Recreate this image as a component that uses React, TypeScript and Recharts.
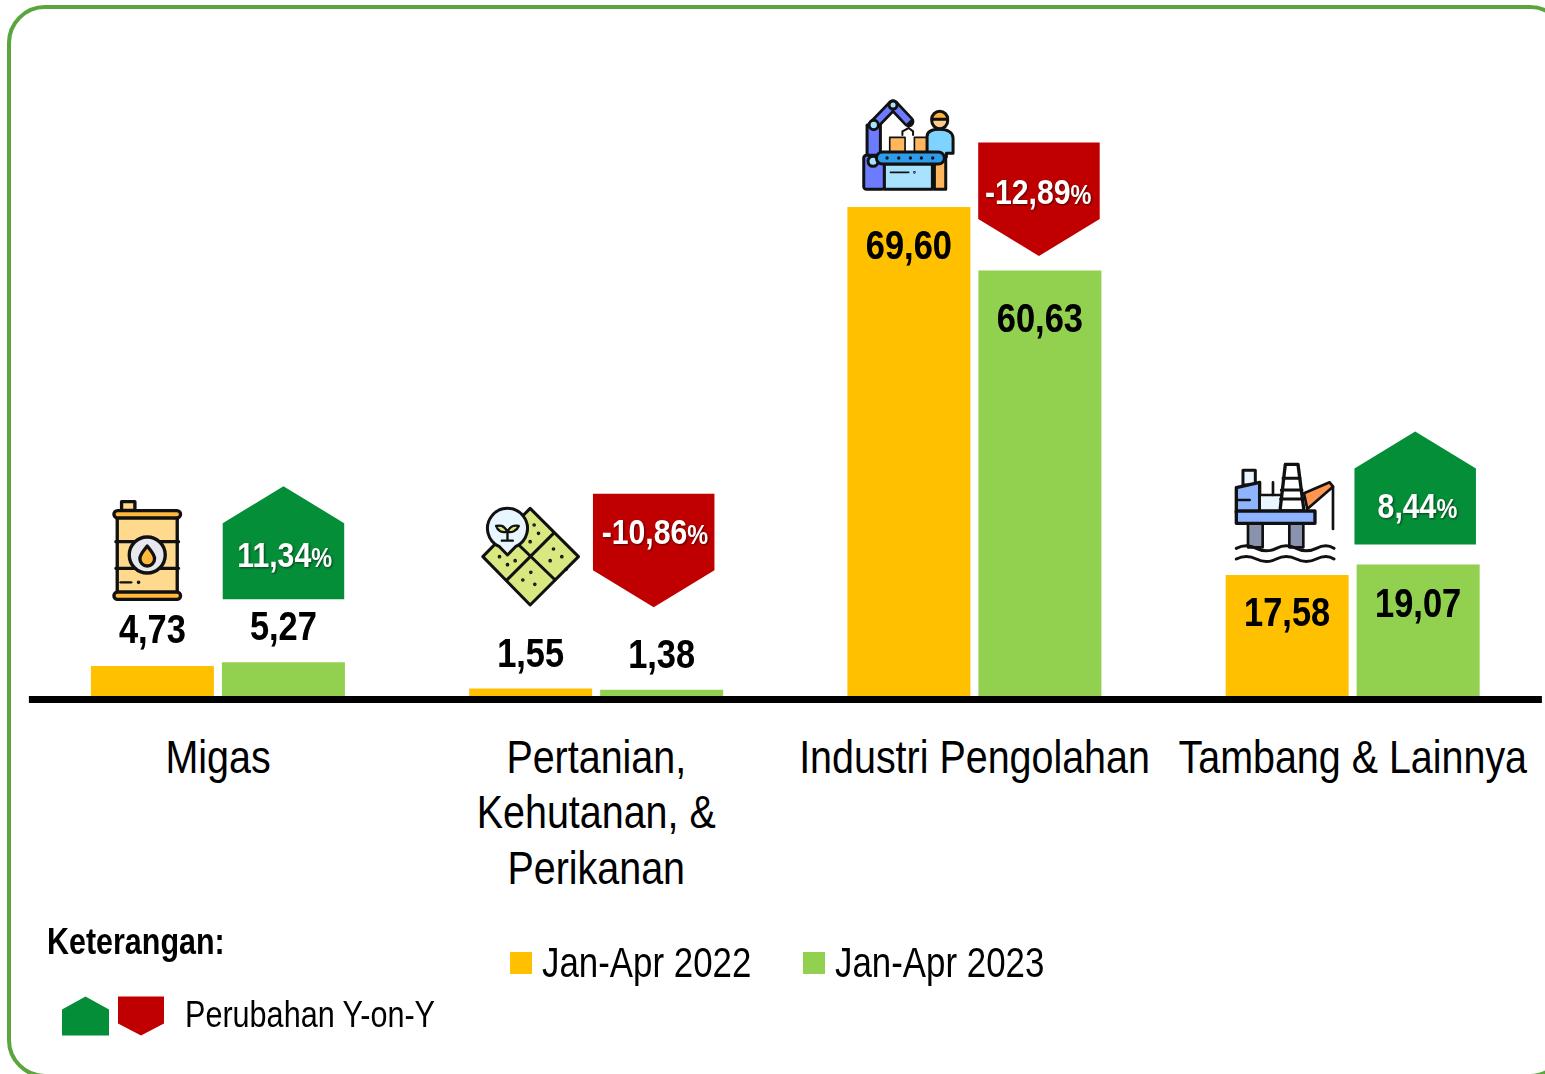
import React from "react";
import { BarChart, Bar, XAxis, YAxis, LabelList, Legend } from "recharts";

const categories = ["Migas", "Pertanian,\nKehutanan, &\nPerikanan", "Industri Pengolahan", "Tambang & Lainnya"];
const seriesNames = ["Jan-Apr 2022", "Jan-Apr 2023"];
const values2022 = [4.73, 1.55, 69.6, 17.58];
const values2023 = [5.27, 1.38, 60.63, 19.07];
const changes = [11.34, -10.86, -12.89, 8.44];

const rows = categories.map((category, i) => ({
  category,
  v2022: values2022[i],
  v2023: values2023[i],
  change: changes[i],
}));

const FONT = '"Liberation Sans", Arial, sans-serif';
const YELLOW = "#FFC000";
const LIGHT_GREEN = "#92D050";
const UP = "#058E38";
const DOWN = "#C00000";
const FRAME = "#5BA53F";

// annotation layout, relative to each bar
const label2022Dy = [-23, -22, 51.5, 51];
const label2023Dy = [-22, -22, 61.5, 52];
const calloutDx = [0.8, -7.2, -0.2, -2.2];
const calloutTop = [-176, -196, -128, -133]; // top of pentagon, relative to green bar top
const calloutTextDy = [81, 50, 62, 86];
const calloutTextDx = [0, 0, -2, 1];

const comma = (v: number) => v.toFixed(2).replace(".", ",");

const Ink = "#111";
const softShadow = { filter: "drop-shadow(0.5px 0.5px 0.6px rgba(0,0,0,0.35))" };

// horizontally condensed text, standing in for a narrow face
const Narrow = ({ x, y, s, children, ...rest }: any) => (
  <g transform={`translate(${x} 0) scale(${s} 1)`}>
    <text x={0} y={y} textAnchor="middle" fontFamily={FONT} {...rest}>
      {children}
    </text>
  </g>
);

const Barrel = () => (
  <g stroke={Ink} strokeWidth={10} strokeLinejoin="round" strokeLinecap="round">
    <rect x={95} y={65} width={40} height={26} fill="#FFD98E" />
    <rect x={82} y={100} width={180} height={245} fill="#FFD98E" />
    <rect x={72} y={92} width={200} height={22} rx={11} fill="#FFB93C" />
    <rect x={72} y={336} width={200} height={22} rx={11} fill="#FFB93C" />
    <path d="M78 185H266M78 265H266" fill="none" />
    <circle cx={172} cy={225} r={54} fill="#E7E8EE" />
    <path d="M172 198C184 214 194 224 194 236A22 22 0 0 1 150 236C150 224 160 214 172 198Z" fill="#FFB93C" />
    <path d="M92 307H124" fill="none" strokeWidth={7} />
    <circle cx={146} cy={307} r={2} strokeWidth={7} />
  </g>
);

const Field = () => (
  <g stroke={Ink} strokeWidth={9} strokeLinejoin="round" strokeLinecap="round">
    <path d="M180 55L325 200L180 345L38 200Z" fill="#D9E880" />
    <path d="M250 130L112 268M110 130L255 270" fill="none" />
    {[[88, 200], [112, 224], [135, 212], [205, 130], [192, 105], [180, 155], [250, 177], [275, 200], [240, 212], [288, 238], [182, 247], [158, 270], [194, 283]].map(([x, y], i) => (
      <circle key={i} cx={x} cy={y} r={2} strokeWidth={7} />
    ))}
    <path d="M112 195L88 170A60 60 0 1 1 136 170Z" fill="#E8F6FF" />
    <path d="M112 122V150M95 152H128" fill="none" strokeWidth={7} />
    <path d="M112 125C100 105 90 105 78 108C82 122 95 130 112 125C124 130 140 122 146 108C134 105 122 105 112 125Z" fill="#D9E880" strokeWidth={7} />
  </g>
);

const Factory = () => (
  <g stroke={Ink} strokeWidth={9} strokeLinejoin="round" strokeLinecap="round">
    <path d="M100 105L158 45L205 95" fill="none" strokeWidth={34} />
    <path d="M100 105L158 45L205 95" fill="none" stroke="#6C7BFF" strokeWidth={18} strokeLinecap="butt" />
    <rect x={80} y={105} width={40} height={95} fill="#6C7BFF" />
    <circle cx={100} cy={105} r={14} fill="#A9E2FF" />
    <circle cx={158} cy={45} r={12} fill="#A9E2FF" />
    <path d="M205 98V114M186 135L186 124L205 114L218 124L218 135" fill="none" strokeWidth={6} />
    <rect x={148} y={142} width={46} height={44} fill="#FFB65C" strokeWidth={5} />
    <rect x={222} y={142} width={42} height={44} fill="#FFB65C" strokeWidth={5} />
    <rect x={282} y={195} width={34} height={103} fill="#FFB65C" />
    <path d="M260 190V140C260 125 275 118 298 118C322 118 338 128 338 145V190H318V200H278V190Z" fill="#7FD4FF" />
    <circle cx={298} cy={92} r={24} fill="#FFCB8E" />
    <path d="M274 88A24 24 0 0 1 322 88Z" fill="#FFB23C" />
    <rect x={70} y={196} width={62} height={102} rx={8} fill="#6C7BFF" />
    <circle cx={98} cy={214} r={15} fill="#A9E2FF" />
    <rect x={132} y={222} width={144} height={76} fill="#A9E2FF" />
    <rect x={108} y={186} width={204} height={36} rx={18} fill="#2E9CE8" />
    {[140, 175, 210, 243, 277].map((x) => (
      <circle key={x} cx={x} cy={204} r={2} strokeWidth={6} />
    ))}
    <path d="M150 247H205" fill="none" strokeWidth={5} />
    <circle cx={222} cy={247} r={1} strokeWidth={6} />
  </g>
);

const Rig = () => (
  <g stroke={Ink} strokeWidth={10} strokeLinejoin="round" strokeLinecap="round">
    <rect x={85} y={136} width={37} height={44} fill="#EAF6FF" strokeWidth={9} />
    <path d="M65 188L135 172V262H65Z" fill="#8FB4FF" />
    <rect x={135} y={210} width={65} height={50} fill="#EAF6FF" strokeWidth={8} />
    <path d="M175 172V210M65 225H105" fill="none" strokeWidth={8} />
    <path d="M268 205L345 172L355 185L278 252Z" fill="#FF9550" strokeWidth={8} />
    <path d="M355 185V312" fill="none" strokeWidth={8} />
    <rect x={100} y={295} width={44} height={72} fill="#8A93AE" strokeWidth={8} />
    <rect x={224} y={295} width={42} height={72} fill="#8A93AE" strokeWidth={8} />
    <path d="M212 118H250L268 258H196Z" fill="#fff" />
    <path d="M205 160H256M200 195H262M198 222H265" fill="none" strokeWidth={9} />
    <rect x={65} y={258} width={236} height={37} fill="#8FB4FF" />
    <path d="M65 370Q95 355 125 370T185 370T245 370T305 370T358 370M65 402Q95 387 125 402T185 402T245 402T305 402T358 402" fill="none" strokeWidth={9} />
  </g>
);

const icons = [Barrel, Field, Factory, Rig];
// each icon is drawn on a 3x grid; anchor offset of the grid, relative to yellow bar x and axis baseline
const iconAnchor = [
  [-1, -219.5],
  [1, -209.5],
  [-7, -609.5],
  [-11, -274.5],
];

const ZoomIcon = ({ x, y, Comp }: any) => (
  <g transform={`translate(${x} ${y}) scale(${1 / 3})`}>
    <Comp />
  </g>
);

const label2022 = (props: any) => {
  const { x, y, width, height, index, value } = props;
  const Comp = icons[index];
  return (
    <g>
      <g style={softShadow}>
        <Narrow x={x + width / 2} y={y + label2022Dy[index]} s={0.86} fontWeight={700} fontSize={40} fill="#000">
          {comma(value)}
        </Narrow>
      </g>
      <ZoomIcon x={x + iconAnchor[index][0]} y={y + height + iconAnchor[index][1]} Comp={Comp} />
    </g>
  );
};

const pentagon = (x: number, top: number, w: number, h: number, shoulder: number, up: boolean) =>
  up
    ? `M${x} ${top + shoulder}L${x + w / 2} ${top}L${x + w} ${top + shoulder}V${top + h}H${x}Z`
    : `M${x} ${top}H${x + w}V${top + h - shoulder}L${x + w / 2} ${top + h}L${x} ${top + h - shoulder}Z`;

const label2023 = (props: any) => {
  const { x, y, width, index, value } = props;
  const change = changes[index];
  const up = change >= 0;
  const top = y + calloutTop[index];
  const px = x + calloutDx[index];
  return (
    <g>
      <g style={softShadow}>
        <Narrow x={x + width / 2} y={y + label2023Dy[index]} s={0.86} fontWeight={700} fontSize={40} fill="#000">
          {comma(value)}
        </Narrow>
      </g>
      <path d={pentagon(px, top, 121.5, up ? 113 : 113.5, 37, up)} fill={up ? UP : DOWN} />
      <g style={{ filter: "drop-shadow(1px 1px 1px rgba(0,0,0,0.55))" }}>
        <Narrow x={px + 62 + calloutTextDx[index]} y={top + calloutTextDy[index]} s={0.84} fontWeight={700} fill="#fff">
          <tspan fontSize={36}>{comma(change)}</tspan>
          <tspan fontSize={28}>%</tspan>
        </Narrow>
      </g>
    </g>
  );
};

const CategoryTick = ({ x, y, payload }: any) => (
  <g transform={`translate(${x} 0) scale(0.848 1)`}>
    <text x={0} y={y} textAnchor="middle" fontFamily={FONT} fontSize={46.5} fill="#000">
      {String(payload.value)
        .split("\n")
        .map((line: string, i: number) => (
          <tspan key={line} x={0} dy={i === 0 ? 67.4 : 55.5}>
            {line}
          </tspan>
        ))}
    </text>
  </g>
);

const squeezed = (s: number): React.CSSProperties => ({
  position: "absolute",
  whiteSpace: "nowrap",
  transform: `scaleX(${s})`,
  transformOrigin: "left top",
});

const LegendContent = () => (
  <div style={{ position: "relative", width: 1545, height: 154, fontFamily: FONT, color: "#000", lineHeight: 1 }}>
    <div style={{ ...squeezed(0.823), left: 47, top: 3, fontSize: 37, fontWeight: 700 }}>Keterangan:</div>
    <svg style={{ position: "absolute", left: 0, top: 0 }} width={200} height={140}>
      <path d={pentagon(62, 76.5, 47, 39, 13, true)} fill={UP} />
      <path d={pentagon(118, 76.5, 46, 39, 12, false)} fill={DOWN} />
    </svg>
    <div style={{ ...squeezed(0.838), left: 184.5, top: 77, fontSize: 36.5 }}>Perubahan Y-on-Y</div>
    {[
      { name: seriesNames[0], color: YELLOW, left: 510 },
      { name: seriesNames[1], color: LIGHT_GREEN, left: 803 },
    ].map((s) => (
      <React.Fragment key={s.name}>
        <div style={{ position: "absolute", left: s.left, top: 32, width: 22, height: 22, background: s.color }} />
        <div style={{ ...squeezed(0.811), left: s.left + 32, top: 20.5, fontSize: 43 }}>{s.name}</div>
      </React.Fragment>
    ))}
  </div>
);

export default function App() {
  return (
    <div style={{ position: "absolute", left: 0, top: 0, width: 1545, height: 1074, overflow: "hidden", background: "#fff" }}>
      <div
        style={{
          position: "absolute",
          left: 6.5,
          top: 5,
          width: 1561,
          height: 1073,
          border: `4px solid ${FRAME}`,
          borderRadius: 38,
          boxSizing: "border-box",
        }}
      />
      <BarChart
        width={1545}
        height={1074}
        data={rows}
        margin={{ top: 62.7, right: 3.1, bottom: 0, left: 28.9 }}
        barSize={123}
        barGap={8}
        style={{ position: "absolute", left: 0, top: 0 }}
      >
        <YAxis hide domain={[0, 90]} />
        <Bar dataKey="v2022" name={seriesNames[0]} fill={YELLOW} isAnimationActive={false}>
          <LabelList dataKey="v2022" content={label2022} />
        </Bar>
        <Bar dataKey="v2023" name={seriesNames[1]} fill={LIGHT_GREEN} isAnimationActive={false}>
          <LabelList dataKey="v2023" content={label2023} />
        </Bar>
        <XAxis
          dataKey="category"
          height={374.5}
          interval={0}
          tickLine={false}
          tickMargin={0}
          axisLine={{ stroke: "#000", strokeWidth: 7 }}
          tick={<CategoryTick />}
        />
        <Legend
          layout="horizontal"
          verticalAlign="middle"
          content={<LegendContent />}
          wrapperStyle={{ position: "absolute", left: 0, top: 920, width: 1545, height: 154 }}
        />
      </BarChart>
    </div>
  );
}
